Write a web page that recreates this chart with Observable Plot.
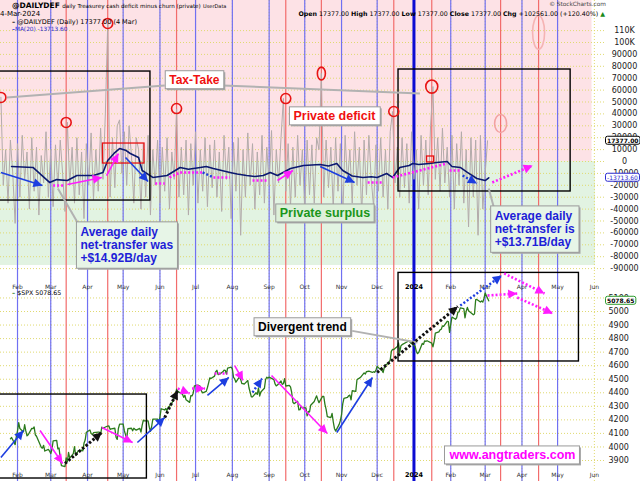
<!DOCTYPE html>
<html><head><meta charset="utf-8">
<script src="https://cdn.jsdelivr.net/npm/d3@7"></script>
<script src="https://cdn.jsdelivr.net/npm/@observablehq/plot@0.6"></script>
<style>
body{margin:0;background:#fff;}
#wrap{position:relative;width:640px;height:481px;overflow:hidden;background:#fff;}
#wrap svg{position:absolute;left:0;overflow:visible;}
.hd{position:absolute;white-space:nowrap;line-height:1;color:#000;font-family:'DejaVu Sans',Verdana,sans-serif;}
</style></head><body><div id="wrap"></div>
<script>
// ---------------- DATA ----------------
const lastValue = 17377.00, maLast = -13713.60, chgValue = 102561.00, chgPct = 120.40, spxLast = 5078.65;

// daily Treasury cash deficit minus churn (private), thousands, one reading every 2 days from startDaily
const startDaily = "2023-01-18", stepDays = 2;
const dailyDef = [
 54,-20,10,-35,18,-10,-52,15,-30,22,
 -15,8,-40,20,-25,12,-45,5,-18,25,
 -30,10,-38,14,-22,18,-10,-42,33,-20,
 12,-35,20,-28,8,-48,15,-20,24,-32,
 10,-25,28,-15,40,116,-30,20,-22,30,
 35,-10,25,-20,30,5,-35,20,10,-40,
 15,-30,22,-45,10,-20,18,-35,12,-25,
 20,-40,8,-15,44,-30,12,-28,18,-45,
 15,-20,25,-35,10,-25,20,-38,14,-22,
 18,-30,8,-42,22,-15,12,-48,16,-25,
 20,-62,10,-30,24,-20,15,-40,8,-28,
 22,-35,12,-20,26,-45,10,-18,20,53,
 -25,15,-38,12,-30,22,-20,10,-42,18,
 -28,14,-35,20,10,74,-30,18,-22,12,
 -40,20,-25,15,-50,22,-18,10,-35,25,
 -20,12,-45,18,-28,22,-15,-38,14,-25,
 20,-30,10,-40,25,42,-18,12,-30,20,
 -22,15,-35,25,-15,10,-40,22,-20,18,
 -28,30,63,-15,20,-25,28,-18,12,-30,
 22,-40,15,-20,25,-35,10,-55,20,-30,
 18,-62,22,-40,-10,17.377
];

// MA(20), thousands
const maPoints = [
 ["2023-01-27",-4.2],["2023-02-14",-5.0],["2023-02-28",-17.6],["2023-03-06",-15.2],["2023-03-15",-16.0],
 ["2023-03-23",-11.8],["2023-04-06",-11.8],["2023-04-14",-9.2],["2023-04-18",0.8],["2023-04-24",7.5],
 ["2023-04-28",10.9],["2023-05-03",9.5],["2023-05-07",6.7],["2023-05-14",3.4],["2023-05-17",-7.6],
 ["2023-05-26",-13.4],["2023-06-07",-11.8],["2023-06-18",-5.0],["2023-06-25",-6.5],["2023-07-05",-5.0],
 ["2023-07-10",-4.2],["2023-07-16",-5.9],["2023-07-30",-9.2],["2023-08-05",-10.5],["2023-08-13",-11.8],
 ["2023-08-20",-12.6],["2023-08-27",-11.8],["2023-09-02",-9.2],["2023-09-08",-11.8],["2023-09-19",-5.9],
 ["2023-09-30",-3.4],["2023-10-07",-2.9],["2023-10-14",-2.5],["2023-10-21",-3.8],["2023-10-28",-1.7],
 ["2023-11-02",-7.6],["2023-11-10",-12.2],["2023-11-19",-13.4],["2023-11-26",-12.8],["2023-12-01",-13.4],
 ["2023-12-09",-10.1],["2023-12-14",-13.4],["2023-12-20",-5.0],["2023-12-28",-3.4],["2023-12-31",-1.7],
 ["2024-01-05",-2.5],["2024-01-14",-1.7],["2024-01-20",-0.8],["2024-01-29",0],["2024-02-02",-4.2],
 ["2024-02-09",-5.0],["2024-02-15",-9.2],["2024-02-23",-14.3],["2024-03-01",-16.0],["2024-03-04",-13.7]
];

// S&P 500 closes
const spxPoints = [
 ["2023-01-26",4060],["2023-01-27",4070],["2023-01-30",4017],["2023-01-31",4077],["2023-02-01",4119],["2023-02-02",4180],
 ["2023-02-03",4136],["2023-02-06",4111],["2023-02-07",4164],["2023-02-08",4118],["2023-02-09",4082],["2023-02-10",4090],
 ["2023-02-13",4137],["2023-02-14",4136],["2023-02-15",4148],["2023-02-16",4090],["2023-02-17",4079],["2023-02-21",3997],
 ["2023-02-22",3991],["2023-02-23",4012],["2023-02-24",3970],["2023-02-27",3982],["2023-02-28",3970],["2023-03-01",3951],
 ["2023-03-02",3981],["2023-03-03",4045],["2023-03-06",4048],["2023-03-07",3986],["2023-03-08",3992],["2023-03-09",3918],
 ["2023-03-10",3862],["2023-03-13",3855],["2023-03-14",3920],["2023-03-15",3892],["2023-03-16",3960],["2023-03-17",3917],
 ["2023-03-20",3951],["2023-03-21",4002],["2023-03-22",3937],["2023-03-23",3949],["2023-03-24",3971],["2023-03-27",3977],
 ["2023-03-28",3971],["2023-03-29",4027],["2023-03-30",4051],["2023-03-31",4109],["2023-04-03",4125],["2023-04-04",4100],
 ["2023-04-05",4091],["2023-04-06",4105],["2023-04-10",4110],["2023-04-11",4109],["2023-04-12",4092],["2023-04-13",4146],
 ["2023-04-14",4138],["2023-04-17",4151],["2023-04-18",4154],["2023-04-19",4155],["2023-04-20",4130],["2023-04-21",4133],
 ["2023-04-24",4138],["2023-04-25",4072],["2023-04-26",4056],["2023-04-27",4136],["2023-04-28",4169],["2023-05-01",4168],
 ["2023-05-02",4120],["2023-05-03",4091],["2023-05-04",4061],["2023-05-05",4136],["2023-05-08",4138],["2023-05-09",4119],
 ["2023-05-10",4138],["2023-05-11",4130],["2023-05-12",4124],["2023-05-15",4137],["2023-05-16",4110],["2023-05-17",4159],
 ["2023-05-18",4198],["2023-05-19",4192],["2023-05-22",4193],["2023-05-23",4146],["2023-05-24",4115],["2023-05-25",4151],
 ["2023-05-26",4205],["2023-05-30",4206],["2023-05-31",4180],["2023-06-01",4221],["2023-06-02",4282],["2023-06-05",4273],
 ["2023-06-06",4284],["2023-06-07",4268],["2023-06-08",4294],["2023-06-09",4299],["2023-06-12",4338],["2023-06-13",4369],
 ["2023-06-14",4373],["2023-06-15",4426],["2023-06-16",4410],["2023-06-20",4389],["2023-06-21",4366],["2023-06-22",4382],
 ["2023-06-23",4348],["2023-06-26",4329],["2023-06-27",4378],["2023-06-28",4377],["2023-06-29",4397],["2023-06-30",4450],
 ["2023-07-03",4456],["2023-07-05",4447],["2023-07-06",4412],["2023-07-07",4399],["2023-07-10",4410],["2023-07-11",4439],
 ["2023-07-12",4473],["2023-07-13",4510],["2023-07-14",4505],["2023-07-17",4523],["2023-07-18",4555],["2023-07-19",4566],
 ["2023-07-20",4535],["2023-07-21",4536],["2023-07-24",4555],["2023-07-25",4567],["2023-07-26",4566],["2023-07-27",4538],
 ["2023-07-28",4582],["2023-07-31",4589],["2023-08-01",4577],["2023-08-02",4513],["2023-08-03",4502],["2023-08-04",4478],
 ["2023-08-07",4518],["2023-08-08",4499],["2023-08-09",4468],["2023-08-10",4468],["2023-08-11",4464],["2023-08-14",4490],
 ["2023-08-15",4437],["2023-08-16",4404],["2023-08-17",4370],["2023-08-18",4370],["2023-08-21",4400],["2023-08-22",4388],
 ["2023-08-23",4436],["2023-08-24",4376],["2023-08-25",4406],["2023-08-28",4433],["2023-08-29",4498],["2023-08-30",4515],
 ["2023-08-31",4508],["2023-09-01",4516],["2023-09-05",4497],["2023-09-06",4465],["2023-09-07",4451],["2023-09-08",4457],
 ["2023-09-11",4487],["2023-09-12",4462],["2023-09-13",4467],["2023-09-14",4505],["2023-09-15",4450],["2023-09-18",4454],
 ["2023-09-19",4444],["2023-09-20",4402],["2023-09-21",4330],["2023-09-22",4320],["2023-09-25",4337],["2023-09-26",4274],
 ["2023-09-27",4275],["2023-09-28",4300],["2023-09-29",4288],["2023-10-02",4288],["2023-10-03",4229],["2023-10-04",4263],
 ["2023-10-05",4258],["2023-10-06",4308],["2023-10-09",4336],["2023-10-10",4358],["2023-10-11",4377],["2023-10-12",4349],
 ["2023-10-13",4327],["2023-10-16",4373],["2023-10-17",4373],["2023-10-18",4315],["2023-10-19",4278],["2023-10-20",4224],
 ["2023-10-23",4217],["2023-10-24",4248],["2023-10-25",4186],["2023-10-26",4137],["2023-10-27",4117],["2023-10-30",4167],
 ["2023-10-31",4194],["2023-11-01",4238],["2023-11-02",4318],["2023-11-03",4358],["2023-11-06",4366],["2023-11-07",4378],
 ["2023-11-08",4383],["2023-11-09",4347],["2023-11-10",4415],["2023-11-13",4411],["2023-11-14",4496],["2023-11-15",4503],
 ["2023-11-16",4508],["2023-11-17",4514],["2023-11-20",4547],["2023-11-21",4538],["2023-11-22",4556],["2023-11-24",4559],
 ["2023-11-27",4550],["2023-11-28",4555],["2023-11-29",4551],["2023-11-30",4568],["2023-12-01",4595],["2023-12-04",4569],
 ["2023-12-05",4567],["2023-12-06",4549],["2023-12-07",4586],["2023-12-08",4604],["2023-12-11",4622],["2023-12-12",4644],
 ["2023-12-13",4707],["2023-12-14",4720],["2023-12-15",4719],["2023-12-18",4741],["2023-12-19",4768],["2023-12-20",4698],
 ["2023-12-21",4746],["2023-12-22",4755],["2023-12-26",4775],["2023-12-27",4781],["2023-12-28",4783],["2023-12-29",4770],
 ["2024-01-02",4743],["2024-01-03",4705],["2024-01-04",4689],["2024-01-05",4697],["2024-01-08",4764],["2024-01-09",4757],
 ["2024-01-10",4783],["2024-01-11",4780],["2024-01-12",4784],["2024-01-16",4766],["2024-01-17",4739],["2024-01-18",4780],
 ["2024-01-19",4840],["2024-01-22",4850],["2024-01-23",4865],["2024-01-24",4869],["2024-01-25",4894],["2024-01-26",4891],
 ["2024-01-29",4928],["2024-01-30",4925],["2024-01-31",4846],["2024-02-01",4906],["2024-02-02",4959],["2024-02-05",4943],
 ["2024-02-06",4954],["2024-02-07",4996],["2024-02-08",4998],["2024-02-09",5027],["2024-02-12",5022],["2024-02-13",4953],
 ["2024-02-14",5001],["2024-02-15",5030],["2024-02-16",5006],["2024-02-20",4976],["2024-02-21",4982],["2024-02-22",5087],
 ["2024-02-23",5089],["2024-02-26",5070],["2024-02-27",5078],["2024-02-28",5069],["2024-02-29",5096],["2024-03-01",5137],
 ["2024-03-04",5078.65]
];

const monthTicks  = ["2023-02-01","2023-03-01","2023-04-01","2023-05-01","2023-06-01","2023-07-01","2023-08-01","2023-09-01","2023-10-01","2023-11-01","2023-12-01","2024-01-01","2024-02-01","2024-03-01","2024-04-01","2024-05-01","2024-06-01"];
const monthLabels = ["Feb","Mar","Apr","May","Jun","Jul","Aug","Sep","Oct","Nov","Dec","2024","Feb","Mar","Apr","May","Jun"];
const monthLines  = ["2023-02-01","2023-03-01","2023-04-01","2023-05-01","2023-06-01","2023-07-01","2023-08-01","2023-09-01","2023-10-01","2023-11-01","2023-12-01","2024-02-01","2024-03-01","2024-04-01","2024-05-01"];
const yearLines   = ["2024-01-01"];
const taxDates    = ["2023-03-14","2023-04-18","2023-06-15","2023-09-15","2023-10-15","2023-12-15","2024-01-16","2024-03-14","2024-04-15"];

const topTicks = [-90,-80,-70,-60,-50,-40,-30,-20,-10,0,10,20,30,40,50,60,70,80,90,100,110];
const spxTicks = [3900,4000,4100,4200,4300,4400,4500,4600,4700,4800,4900,5000,5100];

// shaded zones (thousands)
const zones = [
 {from:"2023-01-10", to:"2024-05-30", lo:0, hi:140, kind:"deficit"},
 {from:"2023-01-10", to:"2024-06-02", lo:-87.4, hi:0, kind:"surplus"}
];
// tax-day spikes circled
const taxCircles = [
 {date:"2023-01-18", value:53.8, kind:"ring"},
 {date:"2023-03-14", value:32.8, kind:"ring"},
 {date:"2023-04-18", value:116, kind:"ring"},
 {date:"2023-06-15", value:44.5, kind:"ring"},
 {date:"2023-09-15", value:52.9, kind:"ring"},
 {date:"2023-10-15", value:73.9, kind:"tall"},
 {date:"2023-12-15", value:42, kind:"ring"},
 {date:"2024-01-16", value:63, kind:"big"},
 {date:"2024-03-14", value:31.9, kind:"faded"},
 {date:"2024-04-15", value:108.4, kind:"fadedTall"}
];
const topFrames = [
 {from:"2023-01-10", to:"2023-05-24", lo:-32.8, hi:75.6},
 {from:"2023-12-19", to:"2024-05-12", lo:-25.2, hi:77.3}
];
const topHighlights = [
 {from:"2023-04-14", to:"2023-05-19", lo:-1.7, hi:15.1},
 {from:"2024-01-12", to:"2024-01-18", lo:-0.8, hi:4.2}
];
const spxFrames = [
 {from:"2023-01-10", to:"2023-05-21", lo:3767, hi:4387},
 {from:"2023-12-19", to:"2024-05-19", lo:4631, hi:5285}
];
const topArrows = [
 ["2023-01-18",-9.2,"2023-02-22",-20.2,"observed"],
 ["2023-03-03",-20.2,"2023-03-13",-20.2,"path"],
 ["2023-03-15",-19.3,"2023-04-13",-13.4,"counter"],
 ["2023-04-17",-11.8,"2023-04-27",6.7,"counter"],
 ["2023-05-03",3.4,"2023-05-22",-16.8,"observed"],
 ["2023-05-28",-18.5,"2023-06-05",-18.5,"path"],
 ["2023-06-09",-13.4,"2023-06-18",-9.2,"path"],
 ["2023-06-18",-9.2,"2023-07-07",-9.2,"path"],
 ["2023-07-07",-9.2,"2023-07-16",-13.4,"bluePath"],
 ["2023-07-16",-13.4,"2023-07-30",-13.4,"path"],
 ["2023-08-18",-16,"2023-08-30",-16,"path"],
 ["2023-09-08",-16,"2023-09-21",-7.6,"counter"],
 ["2023-10-14",-4.2,"2023-11-12",-17.6,"observed"],
 ["2023-11-23",-17.6,"2023-12-06",-17.6,"path"],
 ["2023-12-14",-13.4,"2024-01-29",-1.7,"path"],
 ["2024-01-31",-7.6,"2024-02-09",-7.6,"path"],
 ["2024-02-11",-11.8,"2024-02-23",-18.5,"projected"],
 ["2024-03-07",-17.6,"2024-04-10",-3.4,"counterProjected"]
];
const spxArrows = [
 ["2023-01-18",3922,"2023-02-06",4121,"observed"],
 ["2023-02-20",4121,"2023-03-11",3878,"counter"],
 ["2023-03-13",3878,"2023-04-13",4107,"trend"],
 ["2023-04-13",4144,"2023-05-09",4033,"counter"],
 ["2023-05-13",4033,"2023-06-05",4217,"observed"],
 ["2023-06-05",4217,"2023-06-16",4417,"trend"],
 ["2023-06-16",4431,"2023-06-26",4395,"counterProjected"],
 ["2023-06-28",4431,"2023-07-09",4431,"counterProjected"],
 ["2023-07-11",4380,"2023-07-29",4513,"observed"],
 ["2023-07-17",4542,"2023-07-28",4542,"path"],
 ["2023-08-03",4601,"2023-08-10",4491,"counter"],
 ["2023-08-18",4402,"2023-08-26",4505,"projected"],
 ["2023-09-03",4527,"2023-10-20",4099,"counter"],
 ["2023-10-28",4107,"2023-11-27",4513,"observed"],
 ["2023-12-01",4550,"2024-02-07",5037,"trend"],
 ["2024-02-09",5044,"2024-03-15",5266,"projected"],
 ["2024-03-03",5118,"2024-03-28",5133,"counterProjected"],
 ["2024-03-28",5103,"2024-04-27",4985,"counterProjected"],
 ["2024-03-17",5281,"2024-04-20",5133,"counterProjected"]
];
const topConnectors = [
 ["2023-01-23",53.8,"2023-06-05",63.9],
 ["2023-07-24",63.9,"2024-01-06",57.1],
 ["2023-03-07",-22.7,"2023-03-26",-55.5],
 ["2024-03-04",-22.7,"2024-03-09",-41.2]
];
const spxConnectors = [["2023-11-10",4857,"2024-01-04",4771]];
const topNotes = [
 {date:"2023-06-30", value:68.9, text:"Tax-Take", kind:"tax"},
 {date:"2023-10-26", value:38.7, text:"Private deficit", kind:"deficit"},
 {date:"2023-10-18", value:-42.9, text:"Private surplus", kind:"surplus"},
 {date:"2023-03-26", value:-54.6, text:"Average daily\nnet-transfer was\n+$14.92B/day", kind:"info"},
 {date:"2024-03-09", value:-41.2, text:"Average daily\nnet-transfer is\n+$13.71B/day", kind:"info"}
];
const spxNotes = [
 {date:"2023-09-29", value:4889, text:"Divergent trend", kind:"trend"},
 {date:"2024-03-24", value:3944, text:"www.angtraders.com", kind:"site"}
];

// ---------------- BUILD ----------------
const P = s => new Date(s);
const xDomain = [new Date("2023-01-17T16:00Z"), new Date("2024-06-10T09:00Z")];
const topDomain = [-99.16, 135.29];
const spxDomain = [3744.9, 5236.3];
const DEJAVU = "'DejaVu Sans', Verdana, sans-serif";
const ARIAL = "'Liberation Sans', Arial, sans-serif";

const daily = dailyDef.map((v, i) => ({date: d3.utcDay.offset(P(startDaily), i * stepDays), value: v}));
const ma = maPoints.map(([d, v]) => ({date: P(d), value: v}));
const spx = spxPoints.map(([d, v]) => ({date: P(d), value: v}));
const months = monthTicks.map((d, i) => ({date: P(d), label: monthLabels[i]}));
const rectRows = a => a.map(r => ({...r, from: P(r.from), to: P(r.to)}));
const linkRows = a => a.map(([a1, v1, a2, v2, kind]) => ({x1: P(a1), y1: v1, x2: P(a2), y2: v2, kind}));
const noteRows = a => a.map(n => ({...n, date: P(n.date)}));

function triHead(color) {
  const ns = "http://www.w3.org/2000/svg";
  const m = document.createElementNS(ns, "marker");
  m.setAttribute("viewBox", "-10 -5 10 10");
  m.setAttribute("markerWidth", "10");
  m.setAttribute("markerHeight", "10");
  m.setAttribute("markerUnits", "userSpaceOnUse");
  m.setAttribute("orient", "auto");
  m.setAttribute("overflow", "visible");
  const p = document.createElementNS(ns, "path");
  p.setAttribute("d", "M-9,-4.5L0,0L-9,4.5Z");
  p.setAttribute("fill", color);
  p.setAttribute("stroke", "none");
  m.appendChild(p);
  return m;
}
function ellipse(k) {
  return {draw(ctx, size) {
    const r = Math.sqrt(size / Math.PI), rx = r, ry = r * k, c = 0.5523;
    ctx.moveTo(rx, 0);
    ctx.bezierCurveTo(rx, ry * c, rx * c, ry, 0, ry);
    ctx.bezierCurveTo(-rx * c, ry, -rx, ry * c, -rx, 0);
    ctx.bezierCurveTo(-rx, -ry * c, -rx * c, -ry, 0, -ry);
    ctx.bezierCurveTo(rx * c, -ry, rx, -ry * c, rx, 0);
    ctx.closePath();
  }};
}
const arrowStyles = {
  observed:        {stroke:"#1d3ee0", strokeWidth:1.6, head:true},
  counter:         {stroke:"#ff1cff", strokeWidth:1.6, head:true},
  projected:       {stroke:"#1d3ee0", strokeWidth:2.4, strokeDasharray:"2,2", head:true},
  counterProjected:{stroke:"#ff1cff", strokeWidth:2.6, strokeDasharray:"2,2", head:true},
  path:            {stroke:"#ff1cff", strokeWidth:2.6, strokeDasharray:"2,2", head:false},
  bluePath:        {stroke:"#1d3ee0", strokeWidth:2.4, strokeDasharray:"2,2", head:false},
  trend:           {stroke:"#111", strokeWidth:3, strokeDasharray:"2.5,2", head:true}
};
function arrowMarks(rows) {
  return Object.entries(arrowStyles).map(([kind, s]) => {
    const {head, ...st} = s;
    return Plot.link(rows.filter(r => r.kind === kind), {x1:"x1", y1:"y1", x2:"x2", y2:"y2", ...st, markerEnd: head ? triHead : null});
  });
}
const circleStyles = {
  ring: {r:5, k:1, stroke:"#e81414"}, tall: {r:4, k:1.6, stroke:"#e81414"}, big: {r:6, k:1.1, stroke:"#e81414"},
  faded: {r:6, k:1.5, stroke:"#f2a2a2"}, fadedTall: {r:6, k:2.8, stroke:"#f5b4b4"}
};
const noteStyles = {
  tax:     {fill:"#f01010", size:12, box:"#ffffff"},
  deficit: {fill:"#f01010", size:12.5, box:"#ffffff"},
  surplus: {fill:"#1a961a", size:12.5, box:"#ddf0da"},
  info:    {fill:"#1e1ed8", size:12, box:"#e7f5e7", multi:true},
  trend:   {fill:"#000000", size:12, box:"#f7f7f7"},
  site:    {fill:"#ff00ff", size:12.5, box:"#ffffff"}
};
function noteMarks(rows) {
  return Object.entries(noteStyles).map(([kind, s]) => Plot.text(rows.filter(r => r.kind === kind), {
    x:"date", y:"value", text:"text", fill:s.fill, fontSize:s.size, fontWeight:"bold", fontFamily:ARIAL,
    textAnchor: s.multi ? "start" : "middle", lineAnchor: s.multi ? "top" : "middle", lineHeight:1.1
  }));
}
const gridStyle = {stroke:"#e0da70", strokeOpacity:1, strokeDasharray:"1,2"};
const common = {width:640, marginLeft:0, marginRight:35, marginTop:0, marginBottom:0,
  style:{background:"none", overflow:"visible", fontFamily:DEJAVU, fontSize:"8px"}};

const topTags = [{value:lastValue/1000, label:lastValue.toFixed(2), kind:"last"}, {value:maLast/1000, label:maLast.toFixed(2), kind:"ma"}];
const spxTags = [{value:spxLast, label:spxLast.toFixed(2)}];

const topChart = Plot.plot({
  ...common, height:279,
  x:{type:"utc", domain:xDomain, axis:null},
  y:{domain:topDomain, axis:null},
  marks:[
    Plot.rect(rectRows(zones.filter(z => z.kind === "deficit")), {x1:"from", x2:"to", y1:"lo", y2:"hi", fill:"#fde2e6"}),
    Plot.rect(rectRows(zones.filter(z => z.kind === "surplus")), {x1:"from", x2:"to", y1:"lo", y2:"hi", fill:"#e2f3e2"}),
    Plot.gridY(topTicks, gridStyle),
    Plot.ruleX(monthTicks.map(P), gridStyle),
    Plot.ruleX(monthLines.map(P), {stroke:"#7070f2", strokeWidth:1.2}),
    Plot.ruleX(taxDates.map(P), {stroke:"#f26c6c", strokeWidth:1.2}),
    Plot.ruleX(yearLines.map(P), {stroke:"#0c0cd2", strokeWidth:3}),
    Plot.line(daily, {x:"date", y:"value", stroke:"#b3abab", strokeWidth:1}),
    Plot.line(ma, {x:"date", y:"value", stroke:"#0b1870", strokeWidth:1.6}),
    Plot.rect(rectRows(topFrames), {x1:"from", x2:"to", y1:"lo", y2:"hi", fill:"none", stroke:"#000", strokeWidth:1.4}),
    Plot.rect(rectRows(topHighlights), {x1:"from", x2:"to", y1:"lo", y2:"hi", fill:"none", stroke:"#e81010", strokeWidth:1.3}),
    ...Object.entries(circleStyles).map(([kind, s]) => Plot.dot(noteRows(taxCircles.filter(c => c.kind === kind)), {
      x:"date", y:"value", r:s.r, symbol:ellipse(s.k), stroke:s.stroke, strokeWidth:1.6, fill:"none"})),
    Plot.link(linkRows(topConnectors), {x1:"x1", y1:"y1", x2:"x2", y2:"y2", stroke:"#b2b2b2", strokeWidth:2}),
    ...arrowMarks(linkRows(topArrows)),
    ...noteMarks(noteRows(topNotes)),
    Plot.axisY(topTicks, {anchor:"right", tickSize:0, tickPadding:19, textAnchor:"middle", fontSize:8, fill:"#222",
      tickFormat: v => v >= 100 ? `${v}K` : `${v * 1000}`}),
    Plot.text(topTags.filter(t => t.kind === "last"), {y:"value", text:"label", frameAnchor:"right", dx:1.5, textAnchor:"start", fontSize:6, fontWeight:"bold", fill:"#000"}),
    Plot.text(topTags.filter(t => t.kind === "ma"), {y:"value", text:"label", frameAnchor:"right", dx:1.5, textAnchor:"start", fontSize:6, fill:"#2a2ad0"})
  ]
});

const spxChart = Plot.plot({
  ...common, height:202,
  x:{type:"utc", domain:xDomain, axis:null},
  y:{domain:spxDomain, axis:null},
  marks:[
    Plot.gridY(spxTicks, gridStyle),
    Plot.ruleX(monthTicks.map(P), gridStyle),
    Plot.ruleX(monthLines.map(P), {stroke:"#7070f2", strokeWidth:1.2}),
    Plot.ruleX(taxDates.map(P), {stroke:"#f26c6c", strokeWidth:1.2}),
    Plot.ruleX(yearLines.map(P), {stroke:"#0c0cd2", strokeWidth:3}),
    Plot.text(months.filter(m => m.label !== "2024"), {x:"date", text:"label", frameAnchor:"top", dy:5, fontSize:6, fill:"#333"}),
    Plot.text(months.filter(m => m.label === "2024"), {x:"date", text:"label", frameAnchor:"top", dy:5, fontSize:6.5, fontWeight:"bold", fill:"#000"}),
    Plot.text(months.filter(m => m.label !== "2024"), {x:"date", text:"label", frameAnchor:"bottom", dy:-5, fontSize:6, fill:"#333"}),
    Plot.text(months.filter(m => m.label === "2024"), {x:"date", text:"label", frameAnchor:"bottom", dy:-5, fontSize:6.5, fontWeight:"bold", fill:"#000"}),
    Plot.line(spx, {x:"date", y:"value", stroke:"#2b7b1c", strokeWidth:1.3}),
    Plot.rect(rectRows(spxFrames), {x1:"from", x2:"to", y1:"lo", y2:"hi", fill:"none", stroke:"#000", strokeWidth:1.4}),
    Plot.link(linkRows(spxConnectors), {x1:"x1", y1:"y1", x2:"x2", y2:"y2", stroke:"#b2b2b2", strokeWidth:2}),
    ...arrowMarks(linkRows(spxArrows)),
    ...noteMarks(noteRows(spxNotes)),
    Plot.axisY(spxTicks, {anchor:"right", tickSize:0, tickPadding:3, fontSize:8, fill:"#222", tickFormat: v => String(v)}),
    Plot.text(spxTags, {y:"value", text:"label", frameAnchor:"right", dx:1.5, textAnchor:"start", fontSize:6, fontWeight:"bold", fill:"#000"})
  ]
});

const wrap = document.getElementById("wrap");
topChart.style.top = "0px";
spxChart.style.top = "279px";
wrap.appendChild(topChart);
wrap.appendChild(spxChart);

// boxes behind callout and tag texts
const NS = "http://www.w3.org/2000/svg";
function boxText(svg, text, {fill, stroke, px = 4, py = 2, shadow = true, rx = 0}) {
  for (const t of svg.querySelectorAll("text")) {
    if (t.textContent !== text) continue;
    const b = t.getBBox();
    const tr = t.getAttribute("transform");
    const mk = (dx, dy, f, s) => {
      const r = document.createElementNS(NS, "rect");
      r.setAttribute("x", b.x - px + dx); r.setAttribute("y", b.y - py + dy);
      r.setAttribute("width", b.width + 2 * px); r.setAttribute("height", b.height + 2 * py);
      r.setAttribute("fill", f); r.setAttribute("stroke", s); r.setAttribute("rx", rx);
      if (tr) r.setAttribute("transform", tr);
      t.parentNode.insertBefore(r, t);
    };
    if (shadow) mk(1.5, 1.5, "#a8a8a8", "none");
    mk(0, 0, fill, stroke);
  }
}
for (const n of topNotes) boxText(topChart, n.text.replace(/\n/g, ""), {fill: noteStyles[n.kind].box, stroke: "#9a9a9a", px: 4, py: n.kind === "info" ? 3 : 2});
for (const n of spxNotes) boxText(spxChart, n.text, {fill: noteStyles[n.kind].box, stroke: "#9a9a9a", px: 4, py: 2});
boxText(topChart, topTags[0].label, {fill:"#fff", stroke:"#000", px:1.5, py:0.5, shadow:false, rx:2});
boxText(topChart, topTags[1].label, {fill:"#fff", stroke:"#2a2ad0", px:1.5, py:0.5, shadow:false, rx:2});
boxText(spxChart, spxTags[0].label, {fill:"#fff", stroke:"#2b9b2b", px:1.5, py:0.5, shadow:false, rx:2});

// header and legends
const fmt2 = v => v.toFixed(2);
const hd = (html, css) => { const d = document.createElement("div"); d.className = "hd"; d.style.cssText = css; d.innerHTML = html; wrap.appendChild(d); };
hd(`<b style="font-size:7.5px">@DAILYDEF</b> <span style="font-size:5.6px">daily Treasurey cash deficit minus churn (private)</span> <span style="font-size:5px">UserData</span>`, "left:12px;top:2px;font-size:7.5px;");
hd(`4-Mar-2024`, "left:0px;top:11px;font-size:7px;");
hd(`<b>–</b> @DAILYDEF (Daily) ${fmt2(lastValue)} (4 Mar)`, "left:12px;top:19px;font-size:6.5px;");
hd(`<b>–</b>MA(20) ${fmt2(maLast)}`, "left:12px;top:27px;font-size:5.8px;color:#2a2ad0;");
hd(`<b>Open</b> ${fmt2(lastValue)} <b>High</b> ${fmt2(lastValue)} <b>Low</b> ${fmt2(lastValue)} <b>Close</b> ${fmt2(lastValue)} <b>Chg</b> +${fmt2(chgValue)} (+${fmt2(chgPct)}%) <span style="color:#1a8a1a">▲</span>`, "right:35px;top:11px;font-size:6.3px;");
hd(`© StockCharts.com`, "right:34px;top:2px;font-size:5.8px;color:#444;");
hd(`<b style="color:#2b7b1c">–</b> $SPX ${fmt2(spxLast)}`, "left:12px;top:290px;font-size:6.3px;");
</script></body></html>
